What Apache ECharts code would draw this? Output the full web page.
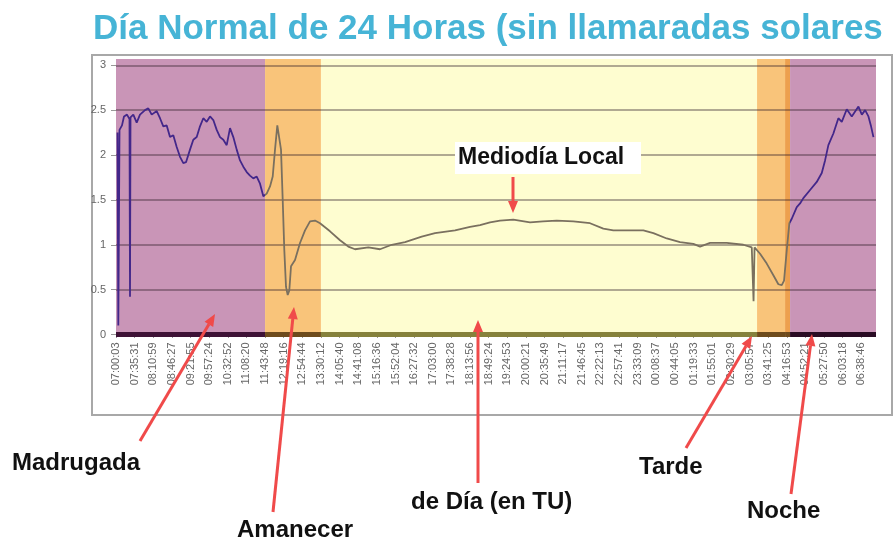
<!DOCTYPE html>
<html><head><meta charset="utf-8">
<script src="https://cdn.jsdelivr.net/npm/echarts@6/dist/echarts.min.js"></script>
<style>html,body{margin:0;padding:0;background:#fff}#c{width:896px;height:544px}</style>
</head><body><div id="c"></div>
<script>
// ---- data ----
const tickStepSec = 2128; // 35:28 between labelled ticks
const tickLabels = ['07:00:03','07:35:31','08:10:59','08:46:27','09:21:55','09:57:24','10:32:52','11:08:20','11:43:48','12:19:16','12:54:44','13:30:12','14:05:40','14:41:08','15:16:36','15:52:04','16:27:32','17:03:00','17:38:28','18:13:56','18:49:24','19:24:53','20:00:21','20:35:49','21:11:17','21:46:45','22:22:13','22:57:41','23:33:09','00:08:37','00:44:05','01:19:33','01:55:01','02:30:29','03:05:57','03:41:25','04:16:53','04:52:21','05:27:50','06:03:18','06:38:46'];
const yTicks = [0, 0.5, 1, 1.5, 2, 2.5, 3];
const xMaxSec = 86800;
const yMax = 3.07;

// elapsed seconds since 07:00:03 and signal value
const elapsedSec = [171,263,400,685,914,1256,1542,1599,1656,1976,2364,2741,3312,3689,4078,4649,5026,5403,5791,6168,6545,6933,7310,7687,7995,8452,8829,9218,9594,9971,10360,10737,11114,11502,11879,12256,12644,13021,13398,13786,14163,14540,14929,15305,15682,16071,16448,16825,
17213,17590,17898,18161,18424,18652,18846,19040,19223,19417,19611,19794,19989,20445,21016,21588,22159,22730,23301,
24443,25585,26533,27299,28818,30154,31491,33010,34917,36436,38721,40434,41576,42718,43860,45380,47287,48772,50337,52233,54140,55660,56802,58332,60229,61371,62902,64421,65940,66704,67847,69754,71650,72611,72816,72930,
73558,74323,75077,75648,76037,76299,76608,76905,
77179,77750,78127,78504,79269,80034,80606,80983,81360,81931,82502,82890,83461,84033,84795,85183,85560,85937,86211,86508];
const signal = [2.25,0.10,2.28,2.33,2.43,2.45,2.40,0.42,2.42,2.45,2.36,2.45,2.50,2.52,2.45,2.49,2.41,2.32,2.33,2.20,2.22,2.09,1.98,1.91,1.92,2.06,2.17,2.20,2.32,2.41,2.37,2.43,2.39,2.28,2.20,2.17,2.11,2.30,2.20,2.06,1.94,1.87,1.81,1.77,1.74,1.76,1.68,1.54,
1.57,1.65,1.76,2.06,2.33,2.31,2.06,1.50,0.94,0.53,0.44,0.49,0.76,0.83,1.02,1.16,1.26,1.27,1.24,
1.15,1.05,0.98,0.95,0.97,0.95,1.00,1.03,1.09,1.13,1.16,1.20,1.22,1.25,1.27,1.28,1.25,1.26,1.27,1.26,1.24,1.18,1.16,1.16,1.16,1.13,1.07,1.03,1.01,0.98,1.02,1.02,1.00,0.97,0.37,0.97,
0.90,0.79,0.66,0.56,0.55,0.60,0.94,1.24,
1.29,1.42,1.46,1.52,1.61,1.70,1.80,1.94,2.11,2.24,2.41,2.37,2.51,2.43,2.54,2.45,2.50,2.43,2.33,2.20];

// time-of-day bands (elapsed seconds)
const bandStart = [0, 17024, 23408, 73215, 76414, 76985];
const bandEnd   = [17024, 23408, 73215, 76414, 76985, 86800];

// ---- styles ----
const bandFill  = ['#c995b7', '#f9c47a', '#fefdd0', '#f9c47a', '#eda04e', '#c995b7'];
const bandFloor = ['#3e1236', '#6e4b1c', '#86823c', '#6e4b1c', '#6e4b1c', '#2a0c24'];
const nightLine = '#43278a';
const dayLine = '#7a705f';
const FONT = '"Liberation Sans", Arial, Helvetica, sans-serif';
const RED = '#f04a4a';

const chart = echarts.init(document.getElementById('c'), null, {renderer: 'canvas'});

const mainData = elapsedSec.map((t, i) => [t, signal[i]]);
const xTickValues = tickLabels.map((_, i) => i * tickStepSec);

const series = [];
// background bands
series.push({
  type: 'line', data: [], z: 1, silent: true,
  markArea: {
    silent: true,
    data: bandStart.map((s, i) => [{xAxis: s, itemStyle: {color: bandFill[i], opacity: 1}}, {xAxis: bandEnd[i]}])
  }
});
// gridlines
series.push({
  type: 'line', data: [], z: 2, silent: true,
  markLine: {
    silent: true, symbol: ['none', 'none'], label: {show: false},
    lineStyle: {color: 'rgba(50,30,40,0.5)', width: 1.5, type: 'solid'},
    data: yTicks.filter(v => v > 0).map(v => ({yAxis: v}))
  }
});
// floor strip along zero
bandStart.forEach((s, i) => {
  series.push({
    type: 'line', z: 3, silent: true, clip: false, symbol: 'none',
    data: [[s, 0], [bandEnd[i], 0]],
    lineStyle: {color: bandFloor[i], width: 5}
  });
});
const mainIndex = series.length;
series.push({
  type: 'line', z: 5, symbol: 'none', data: mainData,
  lineStyle: {width: 1.8}
});

// annotation helpers
function arrow(x1, y1, x2, y2) {
  const dx = x2 - x1, dy = y2 - y1, L = Math.hypot(dx, dy);
  const ux = dx / L, uy = dy / L, hl = 12, hw = 5;
  const bx = x2 - ux * hl, by = y2 - uy * hl;
  return [
    {type: 'line', z: 20, shape: {x1, y1, x2: bx, y2: by}, style: {stroke: RED, lineWidth: 3}},
    {type: 'polygon', z: 20, shape: {points: [[x2, y2], [bx - uy * hw, by + ux * hw], [bx + uy * hw, by - ux * hw]]}, style: {fill: RED}}
  ];
}
function label(text, x, y, size) {
  return {type: 'text', z: 21, x, y, style: {text, fill: '#111', fontSize: size || 24, fontWeight: 'bold', fontFamily: FONT, align: 'left', verticalAlign: 'middle'}};
}

const graphic = [
  {type: 'rect', z: 0, shape: {x: 92, y: 55, width: 800, height: 360}, style: {fill: 'none', stroke: '#a8a8a8', lineWidth: 2}},
  {type: 'text', z: 21, x: 93, y: 29, style: {text: 'Día Normal de 24 Horas (sin llamaradas solares', fill: '#46b4d6', fontSize: 35, fontWeight: 'bold', fontFamily: FONT, align: 'left', verticalAlign: 'middle'}},
  {type: 'rect', z: 19, shape: {x: 455, y: 142, width: 186, height: 32}, style: {fill: '#ffffff'}},
  label('Mediodía Local', 458, 158, 23),
  label('Madrugada', 12, 463),
  label('Amanecer', 237, 530),
  label('de Día (en TU)', 411, 502),
  label('Tarde', 639, 467),
  label('Noche', 747, 511),
  ...arrow(513, 177, 513, 213),
  ...arrow(140, 441, 215, 314),
  ...arrow(273, 512, 294, 307),
  ...arrow(478, 483, 478, 320),
  ...arrow(686, 448, 752, 336),
  ...arrow(791, 494, 812, 334)
];

chart.setOption({
  animation: false,
  backgroundColor: '#ffffff',
  grid: {left: 116, right: 20, top: 59, bottom: 209.5},
  xAxis: {
    type: 'value', min: 0, max: xMaxSec,
    splitLine: {show: false},
    axisLine: {show: false},
    axisTick: {show: true, customValues: xTickValues, length: 3, lineStyle: {color: '#333'}},
    axisLabel: {
      customValues: xTickValues, rotate: 90, margin: 8,
      fontSize: 11, color: '#666', fontFamily: FONT,
      formatter: v => tickLabels[Math.round(v / tickStepSec)] || ''
    }
  },
  yAxis: {
    type: 'value', min: 0, max: yMax,
    splitLine: {show: false},
    axisLine: {show: false},
    axisTick: {show: true, customValues: yTicks, length: 5, lineStyle: {color: '#999'}},
    axisLabel: {customValues: yTicks, margin: 10, fontSize: 11, color: '#666', fontFamily: FONT}
  },
  visualMap: {
    type: 'piecewise', show: false, dimension: 0, seriesIndex: mainIndex,
    pieces: [
      {lt: bandStart[1], color: nightLine},
      {gte: bandStart[1], lt: bandEnd[4], color: dayLine},
      {gte: bandEnd[4], color: nightLine}
    ]
  },
  series,
  graphic
});
</script></body></html>
